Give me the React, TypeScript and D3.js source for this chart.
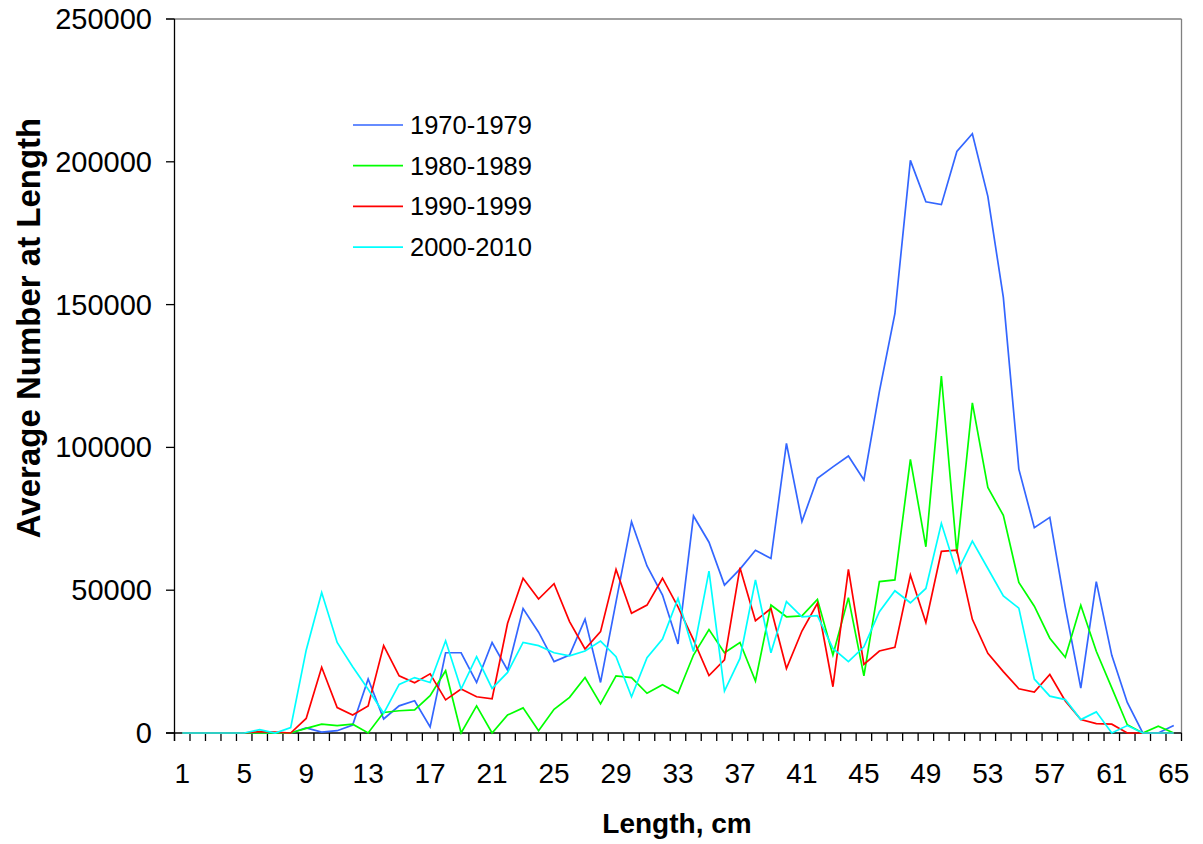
import React from "react";
import * as d3 from "d3";

const lengths: number[] = d3.range(1, 66);
const tickLabels: number[] = [1, 5, 9, 13, 17, 21, 25, 29, 33, 37, 41, 45, 49, 53, 57, 61, 65];
const yTicks: number[] = [0, 50000, 100000, 150000, 200000, 250000];

const s1970: number[] = [
  0, 0, 0, 0, 0, 0, 0, 0, 1800, 300,
  800, 2800, 18900, 4900, 9500, 11300, 2100, 28100, 28100, 17700,
  31700, 22000, 43600, 35300, 25000, 27300, 39900, 17700, 45900, 74000,
  58500, 48300, 31200, 76000, 66800, 51800, 57400, 64000, 61100, 101400,
  74000, 89200, 93200, 97000, 88600, 119600, 146800, 200500, 186000, 185000,
  203600, 209800, 187900, 152500, 92400, 71900, 75500, 44000, 15700, 53000,
  27200, 10700, 0, 0, 2600,
];
const s1980: number[] = [
  0, 0, 0, 0, 0, 0, 0, 0, 1600, 3100,
  2600, 3100, 0, 7200, 7800, 8100, 13100, 21800, 0, 9500,
  0, 6300, 8800, 800, 8300, 12500, 19400, 10200, 20000, 19400,
  13900, 16900, 13900, 27300, 36200, 28100, 31700, 18200, 44800, 40700,
  41000, 46800, 27300, 47400, 20000, 53000, 53600, 95800, 65200, 125000,
  62900, 115600, 86000, 76200, 52700, 44400, 33200, 26500, 44700, 28600,
  15800, 2900, 0, 2400, 0,
];
const s1990: number[] = [
  0, 0, 0, 0, 0, 500, 300, 0, 5100, 23000,
  8900, 6300, 9500, 30600, 20000, 17600, 20700, 11600, 15400, 12700,
  12000, 38400, 54200, 46900, 52300, 39000, 29400, 35500, 57300, 41900,
  44800, 54200, 44200, 32600, 20100, 25600, 57900, 39300, 43600, 22600,
  35700, 45400, 16200, 57300, 24000, 28700, 30000, 55300, 38700, 63600,
  64000, 39800, 27900, 21500, 15500, 14300, 20500, 11200, 4700, 3300,
  3100, 0, 0, 0, 0,
];
const s2000: number[] = [
  0, 0, 0, 0, 0, 1200, 0, 1900, 29000, 49200,
  31700, 23200, 15300, 6900, 17000, 19400, 17700, 32300, 15400, 26700,
  15600, 21200, 31700, 30600, 28100, 27000, 28700, 32200, 26700, 12700,
  26400, 32900, 47100, 28500, 56700, 14700, 26100, 53600, 28100, 46000,
  40700, 41100, 29600, 25000, 30200, 42500, 49800, 45600, 50600, 73400,
  56100, 67200, 57600, 48000, 43700, 18900, 12900, 11700, 4700, 7400,
  0, 2600, 0, 0, 0,
];

const seriesNames: string[] = ["1970-1979", "1980-1989", "1990-1999", "2000-2010"];
const seriesColors: string[] = ["#3366ff", "#00ff00", "#ff0000", "#00ffff"];
const seriesValues: number[][] = [s1970, s1980, s1990, s2000];

const W = 1203;
const H = 844;
const left = 174.5;
const right = 1181.5;
const top = 19;
const bottom = 733;
const font = "'Liberation Sans', Arial, sans-serif";

export default function App() {
  const x = d3.scaleBand<number>().domain(lengths).range([left, right]).padding(0);
  const y = d3.scaleLinear().domain([0, 250000]).range([bottom, top]);
  const cx = (d: number) => (x(d) as number) + x.bandwidth() / 2;
  const line = d3
    .line<number>()
    .x((_, i) => cx(lengths[i]))
    .y((v) => y(v));

  const boundaries = d3.range(0, lengths.length + 1).map((i) => left + i * x.bandwidth());

  return (
    <svg
      width={W}
      height={H}
      style={{ position: "absolute", left: 0, top: 0, background: "#fff" }}
      fontFamily={font}
    >
      <rect x={0} y={0} width={W} height={H} fill="#fff" />
      {/* plot border (top/right) */}
      <line x1={166} x2={right} y1={top} y2={top} stroke="#808080" strokeWidth={1.3} />
      <line x1={right} x2={right} y1={top} y2={bottom} stroke="#808080" strokeWidth={1.3} />
      {/* y axis */}
      <line x1={left} x2={left} y1={top} y2={bottom + 8} stroke="#000" strokeWidth={1.3} />
      {yTicks.map((t) => (
        <g key={t}>
          <line x1={166} x2={left} y1={y(t)} y2={y(t)} stroke="#000" strokeWidth={1.3} />
          <text
            x={152}
            y={y(t)}
            textAnchor="end"
            dominantBaseline="central"
            fontSize={29}
            fill="#000"
          >
            {t}
          </text>
        </g>
      ))}
      {/* x axis */}
      <line x1={166} x2={right} y1={bottom} y2={bottom} stroke="#000" strokeWidth={1.3} />
      {boundaries.map((b, i) => (
        <line key={i} x1={b} x2={b} y1={bottom} y2={bottom + 8} stroke="#000" strokeWidth={1.3} />
      ))}
      {tickLabels.map((t) => (
        <text key={t} x={cx(t)} y={783} textAnchor="middle" fontSize={28} fill="#000">
          {t}
        </text>
      ))}
      {/* series */}
      {seriesValues.map((vals, k) => (
        <path
          key={seriesNames[k]}
          d={line(vals) as string}
          fill="none"
          stroke={seriesColors[k]}
          strokeWidth={1.7}
          strokeLinejoin="miter"
        />
      ))}
      {/* legend */}
      {seriesNames.map((n, k) => (
        <g key={n} transform={`translate(0, ${125 + k * 40.7})`}>
          <line x1={353} x2={403} y1={0} y2={0} stroke={seriesColors[k]} strokeWidth={1.7} />
          <text x={410} y={0} dominantBaseline="central" fontSize={25.5} fill="#000">
            {n}
          </text>
        </g>
      ))}
      {/* axis titles */}
      <text x={677} y={833} textAnchor="middle" fontSize={28} fontWeight="bold" fill="#000">
        Length, cm
      </text>
      <text
        transform={`translate(40, 328) rotate(-90)`}
        textAnchor="middle"
        fontSize={33}
        fontWeight="bold"
        fill="#000"
      >
        Average Number at Length
      </text>
    </svg>
  );
}
